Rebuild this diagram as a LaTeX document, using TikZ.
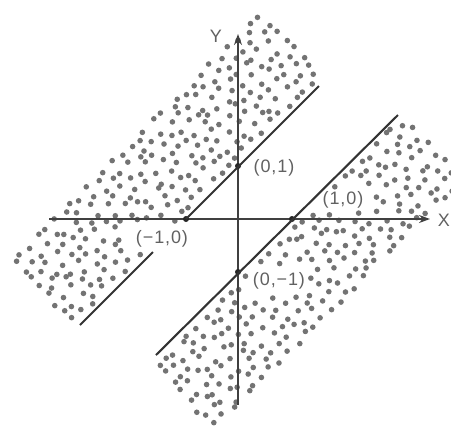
\documentclass[tikz,border=0pt]{standalone}
\usepackage{fontspec}
\setmainfont{Liberation Sans}
\newfontfamily\lblfont[LetterSpace=5]{Liberation Sans}
\usetikzlibrary{arrows.meta}
\begin{document}
\begin{tikzpicture}[x=1pt,y=-1pt,
  axis/.style={line width=2.4pt, draw=black!75, -{Stealth[length=11pt,width=8pt]}},
  bound/.style={line width=2.1pt, draw=black!80},
  lbl/.style={font=\lblfont\fontsize{18}{21}\selectfont, text=black!62, inner sep=0pt},
  axlbl/.style={font=\fontsize{18}{21}\selectfont, text=black!62, inner sep=0pt},
  dotc/.style={fill=black!55},
  ipt/.style={circle, fill=black!85, inner sep=0pt, minimum size=6pt}]
\useasboundingbox (0,0) rectangle (451,432);
\pgfmathsetseed{4242}
% upper dotted band
\foreach \i in {0,...,30}{
  \foreach \j in {0,...,7}{
    \pgfmathsetmacro\uu{-2+\i*11.6+rand*4}
    \pgfmathsetmacro\vv{9+\j*11.6+rand*3.5}
    \pgfmathsetmacro\px{80+0.7071*\uu-0.7071*\vv}
    \pgfmathsetmacro\py{325-0.7071*\uu-0.7071*\vv}
    \pgfmathtruncatemacro\skipit{and(and(\px>128,\px<196),and(\py>224,\py<253))}
    \ifnum\skipit=0 \fill[dotc] (\px,\py) circle[radius=2.8pt];\fi
  }
}
% lower dotted band
\foreach \i in {0,...,30}{
  \foreach \j in {0,...,7}{
    \pgfmathsetmacro\uu{-8+\i*11.6+rand*4}
    \pgfmathsetmacro\ww{9+\j*11.6+rand*3.5}
    \pgfmathsetmacro\px{156+0.7071*\uu+0.7071*\ww}
    \pgfmathsetmacro\py{355-0.7071*\uu+0.7071*\ww}
    \pgfmathtruncatemacro\skipit{or(and(and(\px>317,\px<368),and(\py>188,\py<212)),and(and(\px>247,\px<310),and(\py>267,\py<295)))}
    \ifnum\skipit=0 \fill[dotc] (\px,\py) circle[radius=2.8pt];\fi
  }
}
% axes
\coordinate (xs) at (49,219);
\coordinate (xe) at (430,219);
\coordinate (ys) at (238,405);
\coordinate (ye) at (238,34);
\draw[axis] (xs) -- (xe);
\draw[axis] (ys) -- (ye);
% intersection points
\node[ipt] (p01) at (238,166) {};
\node[ipt] (pm10) at (186,219) {};
\node[ipt] (p10) at (292,219) {};
\node[ipt] (p0m1) at (238,272) {};
% boundary lines
\coordinate (a1) at (80,325);
\coordinate (a2) at (153,252);
\coordinate (a3) at (319,86);
\coordinate (b1) at (156,355);
\coordinate (b2) at (398,115);
\draw[bound] (a1) -- (a2);
\draw[bound] (pm10.center) -- (a3);
\draw[bound] (b1) -- (b2);
% labels
\node[axlbl] (ly) at (216,36) {Y};
\node[axlbl] (lx) at (444,220) {X};
\node[lbl] (t01) at (274,168) {(0,1)};
\node[lbl] (t10) at (343,200) {(1,0)};
\node[lbl] (tm10) at (162,239) {(−1,0)};
\node[lbl] (t0m1) at (279,281) {(0,−1)};
\end{tikzpicture}
\end{document}
